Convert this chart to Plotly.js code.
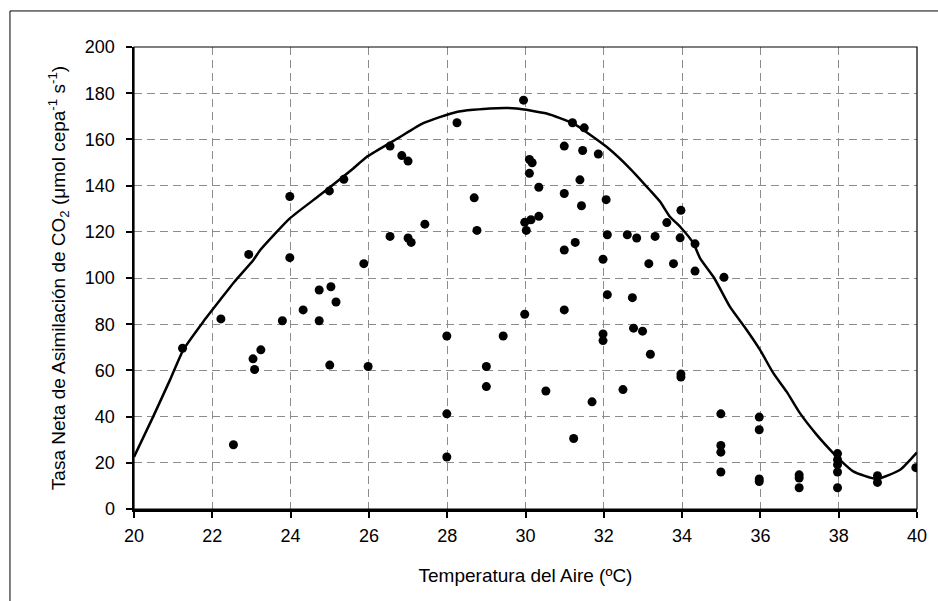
<!DOCTYPE html>
<html>
<head>
<meta charset="utf-8">
<script src="https://cdn.plot.ly/plotly-3.0.1.min.js"></script>
<style>
  html, body { margin: 0; padding: 0; background: #ffffff; }
  #chart { width: 938px; height: 601px; }
</style>
</head>
<body>
<div id="chart"></div>
<script>
// Measured net CO2 assimilation per vine vs. air temperature
const tempAire = [
  21.24, 22.22, 22.54, 22.93, 23.04, 23.08, 23.24, 23.79, 23.98, 23.98,
  24.32, 24.73, 24.73, 24.99, 25.00, 25.03, 25.16, 25.36, 25.87, 25.98,
  26.54, 26.54, 26.84, 27.00, 27.00, 27.08, 27.43, 27.99, 27.99, 27.99,
  28.25, 28.69, 28.76, 29.00, 29.00, 29.43, 29.95, 29.98, 30.02, 29.98,
  30.10, 30.17, 30.10, 30.14, 30.34, 30.34, 30.52, 30.99, 30.99, 30.99,
  30.99, 31.20, 31.27, 31.23, 31.39, 31.43, 31.46, 31.50, 31.70, 31.86,
  31.98, 31.98, 31.98, 32.06, 32.09, 32.09, 32.49, 32.60, 32.73, 32.76,
  32.84, 32.99, 33.15, 33.19, 33.31, 33.61, 33.78, 33.95, 33.97, 33.97,
  33.97, 34.33, 34.33, 34.99, 35.07, 34.99, 34.99, 34.99, 35.97, 35.97,
  35.97, 35.97, 36.99, 36.99, 36.99, 37.97, 37.97, 37.97, 37.97, 37.97,
  38.99, 38.99, 39.97
];
const tasaAsim = [
  69.6, 82.3, 27.8, 110.2, 65.0, 60.4, 68.9, 81.5, 135.3, 108.8,
  86.2, 94.8, 81.5, 137.7, 62.3, 96.2, 89.6, 142.7, 106.2, 61.7,
  157.1, 118.0, 153.0, 150.6, 117.3, 115.4, 123.3, 74.9, 41.2, 22.5,
  167.2, 134.7, 120.6, 61.7, 53.0, 74.9, 177.0, 124.1, 120.6, 84.3,
  151.3, 149.9, 145.3, 125.2, 139.3, 126.7, 51.1, 157.1, 136.6, 112.1,
  86.2, 167.2, 115.4, 30.5, 142.5, 131.3, 155.2, 165.0, 46.4, 153.7,
  108.1, 75.8, 72.9, 133.9, 118.7, 92.8, 51.7, 118.7, 91.5, 78.3,
  117.3, 77.0, 106.2, 67.0, 118.0, 124.0, 106.2, 117.4, 129.3, 58.4,
  57.1, 114.8, 103.0, 41.2, 100.3, 27.5, 24.6, 16.0, 39.8, 34.3,
  13.0, 11.9, 14.8, 13.4, 9.2, 24.0, 21.3, 19.2, 16.0, 9.2,
  14.4, 11.5, 17.9
];

// Fitted response curve
const curvaTemp = [
  20.00, 20.49, 20.92, 21.26, 21.77, 22.20, 22.56, 23.05, 23.22, 23.98,
  24.75, 25.60, 25.94, 26.54, 26.79, 27.39, 28.24, 29.09, 29.77, 30.54,
  31.22, 32.07, 32.67, 33.18, 33.44, 33.69, 33.95, 34.29, 34.46, 34.82,
  35.22, 35.65, 35.99, 36.33, 36.67, 37.01, 37.44, 37.86, 38.03, 38.37,
  38.97, 39.57, 40.00
];
const curvaTasa = [
  22.5, 40.0, 55.9, 68.9, 81.1, 90.5, 98.3, 107.8, 112.0, 125.8,
  135.9, 147.4, 152.4, 158.5, 161.0, 167.0, 171.9, 173.4, 173.4, 171.2,
  166.9, 156.8, 147.4, 138.0, 133.0, 126.5, 122.2, 115.0, 108.5, 100.0,
  87.6, 77.5, 68.9, 58.8, 50.8, 41.5, 32.1, 24.2, 21.3, 16.3,
  13.0, 17.0, 24.5
];

const xTicks = [20, 22, 24, 26, 28, 30, 32, 34, 36, 38, 40];
const yTicks = [0, 20, 40, 60, 80, 100, 120, 140, 160, 180, 200];

const FONT = 'Liberation Sans, Arial, sans-serif';

const traces = [
  {
    x: curvaTemp, y: curvaTasa,
    type: 'scatter', mode: 'lines',
    line: { color: '#000000', width: 2.5, shape: 'spline', smoothing: 0.5 },
    hoverinfo: 'skip', showlegend: false
  },
  {
    x: tempAire, y: tasaAsim,
    type: 'scatter', mode: 'markers',
    marker: { color: '#000000', size: 9, line: { width: 0 } },
    showlegend: false
  }
];

const gridStyle = {
  showgrid: true,
  gridcolor: '#8c8c8c',
  gridwidth: 1,
  griddash: '8px,5px',
  zeroline: false,
  showline: true,
  linecolor: '#000000',
  linewidth: 2.5,
  ticks: 'outside',
  ticklen: 6,
  tickwidth: 2,
  tickcolor: '#000000',
  tickfont: { family: FONT, size: 18, color: '#000000' },
  fixedrange: true
};

const layout = {
  width: 938,
  height: 601,
  margin: { l: 134, r: 21, t: 47, b: 92 },
  paper_bgcolor: '#ffffff',
  plot_bgcolor: '#ffffff',
  font: { family: FONT, color: '#000000' },
  showlegend: false,
  xaxis: Object.assign({}, gridStyle, {
    range: [20, 40],
    tickvals: xTicks,
    ticktext: xTicks.map(String),
    ticklabelstandoff: 3,
    title: { text: 'Temperatura del Aire (ºC)', font: { family: FONT, size: 19 }, standoff: 24 }
  }),
  yaxis: Object.assign({}, gridStyle, {
    range: [0, 200],
    tickvals: yTicks,
    ticktext: yTicks.map(String),
    ticklabelstandoff: 7,
    title: {
      text: 'Tasa Neta de Asimilación de CO<sub>2</sub> (μmol cepa<sup>-1</sup> s<sup>-1</sup>)',
      font: { family: FONT, size: 19 },
      standoff: 14
    }
  }),
  shapes: [
    // thin border along the top and right of the plotting area
    {
      type: 'rect', xref: 'paper', yref: 'paper',
      x0: 0, x1: 1, y0: 0, y1: 1,
      line: { color: '#000000', width: 1.2 }, layer: 'above'
    },
    // outer frame of the figure
    {
      type: 'rect', xref: 'paper', yref: 'paper',
      x0: -0.1584, x1: 1.04, y0: -0.23, y1: 1.078,
      line: { color: '#000000', width: 1 }, layer: 'below'
    }
  ]
};

Plotly.newPlot('chart', traces, layout, { displayModeBar: false, staticPlot: true });
</script>
</body>
</html>
